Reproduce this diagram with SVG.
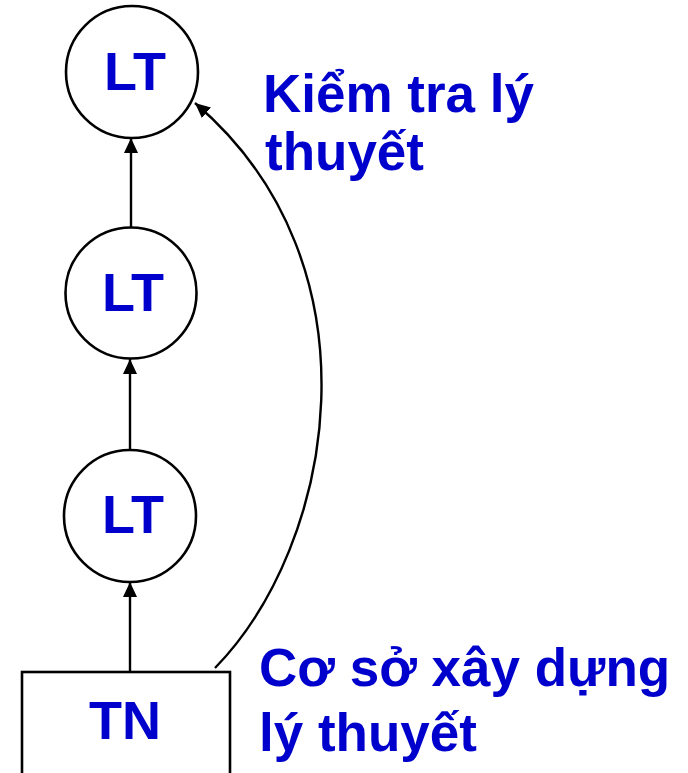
<svg xmlns="http://www.w3.org/2000/svg" width="688" height="773" viewBox="0 0 688 773">
<defs>
<style>
.node{fill:#fff;stroke:#000;stroke-width:2.6}
.lbl{font-family:"Liberation Sans",Arial,sans-serif;font-weight:bold;font-size:54px;fill:#0000CC}
.side{font-size:53px}
.edge{fill:none;stroke:#000;stroke-width:2.4}
</style>
<marker id="ah" markerUnits="userSpaceOnUse" markerWidth="16" markerHeight="16" viewBox="0 0 16 16" refX="15" refY="8" orient="auto">
<path d="M0,1 L15,8 L0,15 Z" fill="#000"/>
</marker>
</defs>
<rect width="688" height="773" fill="#fff"/>
<g id="connectors">
<line class="edge" x1="130" y1="672" x2="130" y2="582" marker-end="url(#ah)"/>
<line class="edge" x1="130" y1="450" x2="130" y2="359" marker-end="url(#ah)"/>
<line class="edge" x1="131" y1="228" x2="131" y2="138" marker-end="url(#ah)"/>
<path class="edge" d="M215,668 C335,545 385,265 195,103" marker-end="url(#ah)"/>
</g>
<g id="lt1">
<circle class="node" cx="132" cy="72" r="66"/>
<text class="lbl" x="135" y="90" text-anchor="middle">LT</text>
</g>
<g id="lt2">
<circle class="node" cx="131" cy="293" r="65.5"/>
<text class="lbl" x="133" y="311" text-anchor="middle">LT</text>
</g>
<g id="lt3">
<circle class="node" cx="130" cy="516" r="66"/>
<text class="lbl" x="133" y="533" text-anchor="middle">LT</text>
</g>
<g id="tn">
<rect class="node" x="22" y="672" width="208" height="140"/>
<text class="lbl" x="125" y="739" text-anchor="middle">TN</text>
</g>
<g id="label-top">
<text class="lbl side" x="263" y="112">Kiểm tra lý</text>
<text class="lbl side" x="265" y="170">thuyết</text>
</g>
<g id="label-bottom">
<text class="lbl side" x="259" y="686">Cơ sở xây dựng</text>
<text class="lbl side" x="259" y="751">lý thuyết</text>
</g>
</svg>
